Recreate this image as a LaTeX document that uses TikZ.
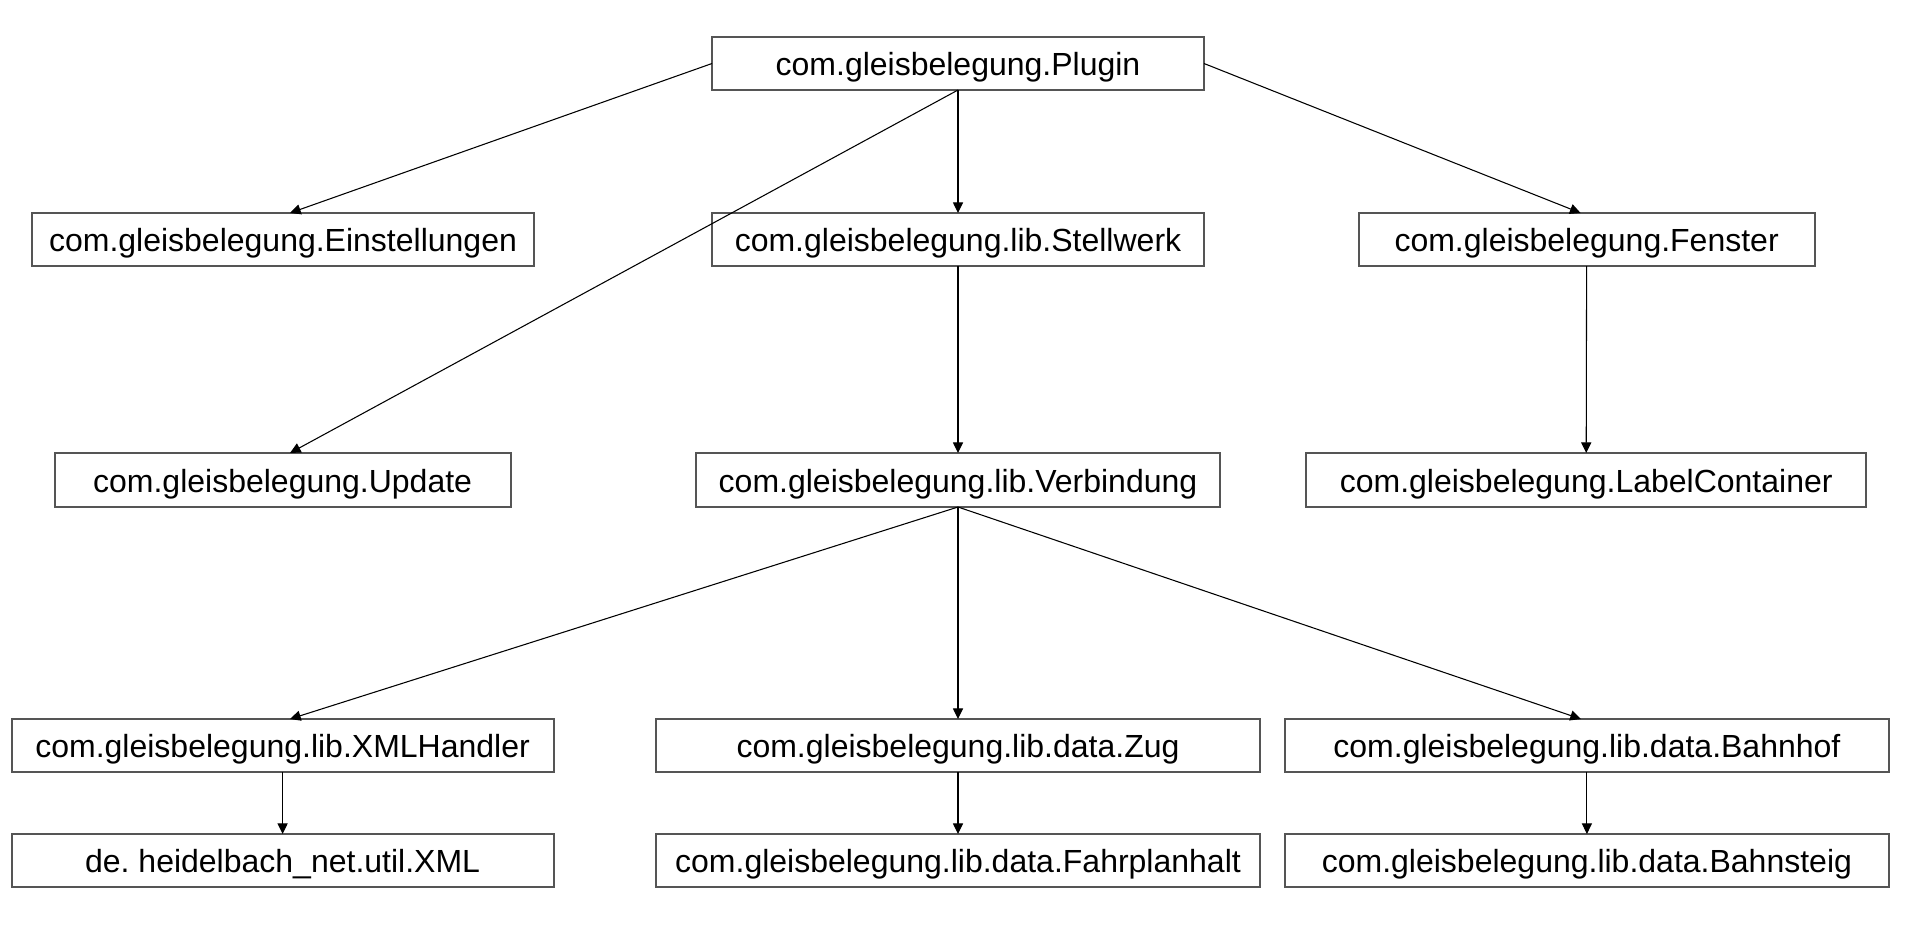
\documentclass[tikz,border=0pt]{standalone}
\usepackage{fontspec}
\setmainfont{Liberation Sans}
\usetikzlibrary{arrows.meta}
\tikzset{
  box/.style 2 args={draw=boxgray, line width=0.75pt, rectangle, inner sep=0pt, outer sep=0pt,
    minimum width=#1*0.375pt, minimum height=#2*0.375pt, font=\fontsize{12pt}{14pt}\selectfont,
    text=black, text height=9.2pt, text depth=0pt},
  link/.style={draw=black, line width=0.4pt, -{Triangle[length=4pt,width=3.8pt]}}
}
\definecolor{boxgray}{HTML}{555555}
\begin{document}
\begin{tikzpicture}[x=0.375pt,y=-0.375pt]
\useasboundingbox (0,0) rectangle (1918,934);
% row 1
\node[box={492}{53}] (plugin) at (958,63.5) {com.gleisbelegung.Plugin};
% row 2
\node[box={502}{53}] (einst) at (283,239.5) {com.gleisbelegung.Einstellungen};
\node[box={492}{53}] (stell) at (958,239.5) {com.gleisbelegung.lib.Stellwerk};
\node[box={456}{53}] (fenster) at (1586.6,239.5) {com.gleisbelegung.Fenster};
% row 3
\node[box={456}{54}] (update) at (282.6,480) {com.gleisbelegung.Update};
\node[box={524}{54}] (verb) at (958,480) {com.gleisbelegung.lib.Verbindung};
\node[box={560}{54}] (label) at (1586.2,480) {com.gleisbelegung.LabelContainer};
% row 4
\node[box={542}{53}] (xmlh) at (282.6,745.5) {com.gleisbelegung.lib.XMLHandler};
\node[box={604}{53}] (zug) at (958,745.5) {com.gleisbelegung.lib.data.Zug};
\node[box={604}{53}] (bahnhof) at (1586.9,745.5) {com.gleisbelegung.lib.data.Bahnhof};
% row 5
\node[box={542}{53}] (xml) at (282.6,860.5) {de.\ heidelbach\_net.util.XML};
\node[box={604}{53}] (fahr) at (958,860.5) {com.gleisbelegung.lib.data.Fahrplanhalt};
\node[box={604}{53}] (steig) at (1586.9,860.5) {com.gleisbelegung.lib.data.Bahnsteig};
% connectors
\draw[link] (plugin.west) -- ([xshift=7*0.375pt]einst.north);
\draw[link] (plugin.south) -- ([xshift=7.4*0.375pt]update.north);
\draw[link] (plugin.south) -- (stell.north);
\draw[link] (plugin.east) -- ([xshift=-6*0.375pt]fenster.north);
\draw[link] (stell.south) -- (verb.north);
\draw[link] (fenster.south) -- (label.north);
\draw[link] (verb.south) -- ([xshift=7.4*0.375pt]xmlh.north);
\draw[link] (verb.south) -- (zug.north);
\draw[link] (verb.south) -- ([xshift=-6*0.375pt]bahnhof.north);
\draw[link] (xmlh.south) -- (xml.north);
\draw[link] (zug.south) -- (fahr.north);
\draw[link] (bahnhof.south) -- (steig.north);
\end{tikzpicture}
\end{document}
